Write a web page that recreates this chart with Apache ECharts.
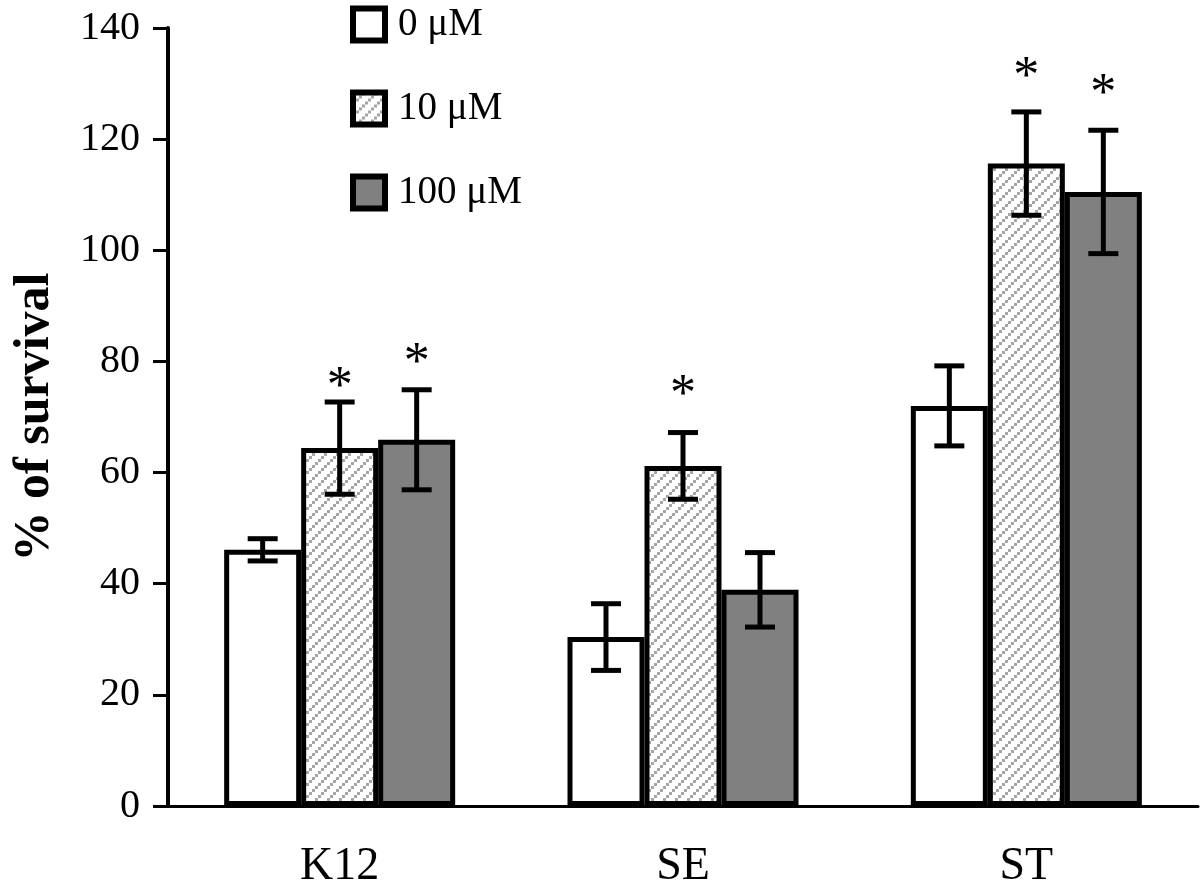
<!DOCTYPE html>
<html>
<head>
<meta charset="utf-8">
<script src="https://cdn.jsdelivr.net/npm/echarts@6/dist/echarts.min.js"></script>
<style>
  html, body { margin: 0; padding: 0; background: #fff; }
  #chart { width: 1200px; height: 891px; }
</style>
</head>
<body>
<div id="chart"></div>
<script>
// 数据
var categories = ["K12", "SE", "ST"];
var seriesNames = ["0 μM", "10 μM", "100 μM"];
var mean0 = [46.1, 30.4, 72.0];
var mean10 = [64.4, 61.2, 115.6];
var mean100 = [65.9, 38.9, 110.5];
var err0 = [2.0, 6.0, 7.2];
var err10 = [8.3, 6.0, 9.3];
var err100 = [9.0, 6.7, 11.1];
// 星号位置（数值坐标）
var star0 = [null, null, null];
var star10 = [76.1, 74.7, 131.9];
var star100 = [80.3, null, 128.8];
var yTicks = [0, 20, 40, 60, 80, 100, 120, 140];

var FONT = "'Liberation Serif', 'DejaVu Serif', serif";
var BAR_W = 77;

// 斜线填充（阶梯状小方块）
function hatch() {
  var c = document.createElement("canvas");
  c.width = 12;
  c.height = 12;
  var ctx = c.getContext("2d");
  ctx.fillStyle = "#fff";
  ctx.fillRect(0, 0, 12, 12);
  ctx.fillStyle = "#a6a6a6";
  for (var i = 0; i < 12; i += 3) {
    ctx.fillRect(i, 9 - i, 3, 3);
  }
  return c;
}
var hatchFill = { image: hatch(), repeat: "repeat" };
var fills = ["#ffffff", hatchFill, "#808080"];
var means = [mean0, mean10, mean100];
var errs = [err0, err10, err100];
var stars = [star0, star10, star100];

var myChart = echarts.init(document.getElementById("chart"));

var series = [];
seriesNames.forEach(function (name, k) {
  series.push({
    name: name,
    type: "bar",
    data: means[k],
    barWidth: BAR_W,
    barGap: "0%",
    itemStyle: {
      color: fills[k],
      borderColor: "#000",
      borderWidth: 5,
    },
    z: 2,
  });
});

// 误差线 + 星号
seriesNames.forEach(function (name, k) {
  var data = categories.map(function (c, i) {
    return [i, means[k][i] - errs[k][i], means[k][i] + errs[k][i], stars[k][i] == null ? -1 : stars[k][i]];
  });
  series.push({
    type: "custom",
    data: data,
    z: 5,
    renderItem: function (params, api) {
      var off = (k - 1) * BAR_W;
      var lo = api.coord([api.value(0), api.value(1)]);
      var hi = api.coord([api.value(0), api.value(2)]);
      var x = lo[0] + off;
      var cap = 15;
      var st = { stroke: "#000", lineWidth: 5 };
      var children = [
        { type: "line", shape: { x1: x, y1: lo[1], x2: x, y2: hi[1] }, style: st },
        { type: "line", shape: { x1: x - cap, y1: lo[1], x2: x + cap, y2: lo[1] }, style: st },
        { type: "line", shape: { x1: x - cap, y1: hi[1], x2: x + cap, y2: hi[1] }, style: st },
      ];
      if (api.value(3) > 0) {
        var s = api.coord([api.value(0), api.value(3)]);
        children.push({
          type: "text",
          style: {
            text: "*",
            x: x,
            y: s[1] + 5,
            align: "center",
            verticalAlign: "middle",
            font: "52px " + FONT,
            fill: "#000",
          },
        });
      }
      return { type: "group", children: children };
    },
  });
});

var option = {
  backgroundColor: "#fff",
  animation: false,
  legend: {
    orient: "vertical",
    left: 345,
    top: 0,
    itemWidth: 32,
    itemHeight: 32,
    itemGap: 45,
    icon: "rect",
    data: seriesNames,
    textStyle: { fontFamily: FONT, fontSize: 39, color: "#000", lineHeight: 32, padding: [0, 0, 0, 8] },
    itemStyle: { borderColor: "#000", borderWidth: 6 },
  },
  grid: { left: 168, right: 2, top: 28, bottom: 85, containLabel: false, outerBoundsMode: "none" },
  xAxis: {
    type: "category",
    data: categories,
    axisLine: { lineStyle: { color: "#000", width: 3 } },
    axisTick: { length: 20, lineStyle: { color: "#000", width: 3 } },
    axisLabel: { fontFamily: FONT, fontSize: 46, color: "#000", margin: 38 },
  },
  yAxis: {
    type: "value",
    min: yTicks[0],
    max: yTicks[yTicks.length - 1],
    interval: 20,
    name: "% of survival",
    nameLocation: "middle",
    nameGap: 108,
    nameTextStyle: { fontFamily: FONT, fontSize: 50, fontWeight: "bold", color: "#000" },
    axisLine: { show: true, lineStyle: { color: "#000", width: 4 } },
    axisTick: { show: true, length: 15, lineStyle: { color: "#000", width: 3 } },
    axisLabel: { fontFamily: FONT, fontSize: 40, color: "#000", margin: 28 },
    splitLine: { show: false },
  },
  series: series,
};
myChart.setOption(option);
window.onresize = myChart.resize;
</script>
</body>
</html>
